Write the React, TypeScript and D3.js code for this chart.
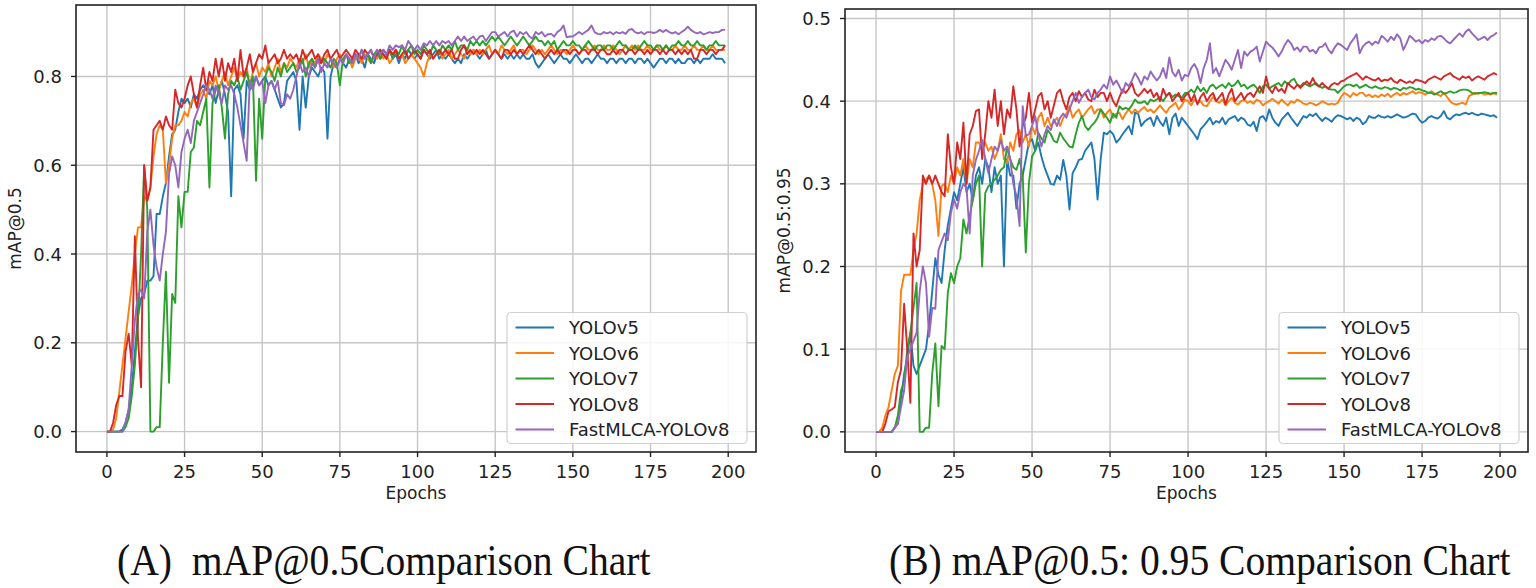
import React from 'react';
import * as d3 from 'd3';

// ---------- categories / labels ----------
const epochs: number[] = d3.range(200);
const seriesNames = ['YOLOv5', 'YOLOv6', 'YOLOv7', 'YOLOv8', 'FastMLCA-YOLOv8'];
const seriesColors = ['#1f77b4', '#ff7f0e', '#2ca02c', '#d62728', '#9467bd'];
const xTicks = [0, 25, 50, 75, 100, 125, 150, 175, 200];
const yTicksA = [0, 0.2, 0.4, 0.6, 0.8];
const yTicksB = [0, 0.1, 0.2, 0.3, 0.4, 0.5];
const captionA = '(A)  mAP@0.5Comparison Chart';
const captionB = '(B) mAP@0.5: 0.95 Comparison Chart';

// ---------- (A) mAP@0.5 ----------
const v5Map50 = [
  0,0,0,0,0,0.005,0.02,0.05,0.1,0.18,
  0.26,0.3,0.31,0.34,0.34,0.35,0.49,0.49,0.53,0.56,
  0.62,0.67,0.68,0.72,0.75,0.74,0.75,0.73,0.76,0.75,
  0.77,0.78,0.77,0.76,0.78,0.74,0.77,0.79,0.76,0.72,
  0.53,0.77,0.78,0.76,0.66,0.79,0.77,0.78,0.8,0.78,
  0.79,0.8,0.78,0.79,0.77,0.75,0.73,0.74,0.79,0.8,
  0.81,0.79,0.68,0.8,0.73,0.8,0.82,0.81,0.8,0.82,
  0.81,0.66,0.8,0.83,0.82,0.84,0.83,0.82,0.84,0.83,
  0.85,0.83,0.84,0.82,0.85,0.84,0.83,0.85,0.84,0.85,
  0.84,0.86,0.84,0.85,0.83,0.85,0.84,0.86,0.85,0.84,
  0.85,0.84,0.86,0.85,0.84,0.85,0.86,0.84,0.85,0.84,
  0.85,0.84,0.83,0.84,0.83,0.85,0.84,0.85,0.86,0.85,
  0.84,0.85,0.86,0.84,0.85,0.86,0.85,0.84,0.85,0.84,
  0.85,0.84,0.85,0.84,0.85,0.84,0.84,0.85,0.83,0.82,
  0.83,0.84,0.85,0.84,0.83,0.84,0.85,0.84,0.84,0.83,
  0.84,0.85,0.84,0.83,0.84,0.84,0.83,0.84,0.85,0.84,
  0.84,0.83,0.84,0.84,0.83,0.84,0.84,0.83,0.84,0.84,
  0.83,0.84,0.84,0.83,0.84,0.83,0.82,0.83,0.84,0.84,
  0.83,0.84,0.84,0.83,0.84,0.83,0.83,0.84,0.84,0.83,
  0.84,0.83,0.84,0.84,0.84,0.85,0.84,0.84,0.84,0.83,
];
const v6Map50 = [
  0,0,0.005,0.03,0.09,0.15,0.21,0.27,0.33,0.4,
  0.46,0.46,0.53,0.52,0.55,0.62,0.67,0.69,0.68,0.56,
  0.6,0.66,0.69,0.69,0.7,0.72,0.71,0.74,0.75,0.73,
  0.76,0.77,0.75,0.79,0.78,0.8,0.77,0.79,0.81,0.78,
  0.8,0.82,0.79,0.81,0.8,0.82,0.78,0.81,0.83,0.8,
  0.82,0.81,0.83,0.8,0.82,0.84,0.81,0.83,0.82,0.84,
  0.83,0.82,0.84,0.83,0.85,0.82,0.84,0.83,0.85,0.84,
  0.83,0.85,0.84,0.82,0.84,0.85,0.83,0.85,0.84,0.82,
  0.84,0.85,0.83,0.85,0.84,0.83,0.85,0.84,0.86,0.84,
  0.85,0.83,0.84,0.86,0.84,0.85,0.83,0.84,0.85,0.84,
  0.83,0.82,0.8,0.83,0.85,0.84,0.85,0.86,0.84,0.85,
  0.86,0.84,0.85,0.86,0.85,0.84,0.86,0.85,0.86,0.85,
  0.86,0.85,0.86,0.87,0.85,0.86,0.85,0.87,0.86,0.85,
  0.86,0.87,0.85,0.86,0.86,0.85,0.86,0.87,0.86,0.85,
  0.86,0.85,0.86,0.87,0.86,0.85,0.86,0.86,0.85,0.86,
  0.87,0.86,0.85,0.86,0.87,0.86,0.86,0.87,0.86,0.86,
  0.87,0.86,0.86,0.87,0.86,0.85,0.86,0.87,0.86,0.87,
  0.86,0.87,0.86,0.86,0.87,0.86,0.86,0.87,0.86,0.86,
  0.87,0.86,0.86,0.87,0.86,0.86,0.87,0.86,0.86,0.87,
  0.86,0.86,0.87,0.86,0.86,0.87,0.86,0.86,0.86,0.86,
];
const v7Map50 = [
  0,0,0,0,0,0,0.01,0.03,0.08,0.15,
  0.25,0.4,0.6,0.5,0,0,0.01,0.01,0.2,0.36,
  0.11,0.31,0.29,0.53,0.46,0.54,0.54,0.63,0.64,0.7,
  0.69,0.72,0.75,0.55,0.74,0.77,0.78,0.73,0.66,0.76,
  0.79,0.78,0.8,0.77,0.79,0.81,0.78,0.8,0.565,0.75,
  0.66,0.8,0.82,0.81,0.79,0.82,0.8,0.83,0.81,0.82,
  0.83,0.81,0.82,0.84,0.8,0.83,0.84,0.82,0.84,0.83,
  0.84,0.83,0.82,0.84,0.83,0.78,0.84,0.85,0.83,0.84,
  0.85,0.84,0.86,0.84,0.85,0.83,0.85,0.86,0.84,0.86,
  0.85,0.86,0.84,0.86,0.85,0.87,0.85,0.86,0.87,0.85,
  0.86,0.85,0.87,0.86,0.85,0.87,0.86,0.85,0.87,0.86,
  0.87,0.86,0.88,0.86,0.87,0.87,0.86,0.88,0.87,0.88,
  0.87,0.88,0.87,0.88,0.89,0.88,0.89,0.88,0.87,0.88,
  0.89,0.88,0.87,0.88,0.89,0.88,0.87,0.88,0.89,0.88,
  0.88,0.87,0.88,0.87,0.88,0.86,0.87,0.88,0.87,0.87,
  0.88,0.87,0.87,0.86,0.87,0.88,0.87,0.86,0.87,0.87,
  0.86,0.87,0.87,0.86,0.87,0.88,0.87,0.87,0.86,0.86,
  0.87,0.86,0.87,0.88,0.87,0.87,0.86,0.87,0.87,0.86,
  0.87,0.86,0.87,0.87,0.88,0.87,0.87,0.88,0.87,0.87,
  0.88,0.87,0.87,0.86,0.87,0.87,0.88,0.87,0.87,0.87,
];
const v8Map50 = [
  0,0,0.02,0.06,0.08,0.08,0.18,0.22,0.15,0.44,
  0.21,0.1,0.6,0.52,0.55,0.68,0.69,0.7,0.68,0.71,
  0.69,0.68,0.77,0.74,0.73,0.75,0.78,0.8,0.76,0.73,
  0.78,0.82,0.77,0.81,0.79,0.84,0.8,0.84,0.79,0.83,
  0.81,0.84,0.79,0.86,0.8,0.82,0.85,0.81,0.83,0.85,
  0.84,0.87,0.83,0.84,0.85,0.83,0.84,0.86,0.84,0.85,
  0.84,0.85,0.83,0.86,0.84,0.85,0.86,0.84,0.85,0.83,
  0.85,0.86,0.84,0.85,0.86,0.84,0.85,0.86,0.85,0.84,
  0.86,0.85,0.84,0.86,0.85,0.86,0.84,0.85,0.86,0.85,
  0.84,0.86,0.85,0.86,0.84,0.85,0.86,0.84,0.85,0.86,
  0.85,0.84,0.86,0.85,0.86,0.84,0.85,0.86,0.85,0.86,
  0.85,0.86,0.84,0.84,0.86,0.87,0.85,0.86,0.85,0.86,
  0.85,0.86,0.85,0.84,0.85,0.86,0.85,0.84,0.86,0.86,
  0.85,0.86,0.85,0.86,0.85,0.86,0.87,0.86,0.85,0.86,
  0.85,0.84,0.85,0.86,0.85,0.86,0.85,0.86,0.86,0.85,
  0.86,0.86,0.85,0.86,0.86,0.85,0.86,0.86,0.85,0.86,
  0.86,0.85,0.85,0.86,0.85,0.86,0.86,0.85,0.86,0.86,
  0.85,0.86,0.86,0.85,0.86,0.85,0.86,0.86,0.85,0.86,
  0.85,0.86,0.86,0.85,0.86,0.85,0.86,0.85,0.86,0.84,
  0.84,0.86,0.86,0.85,0.86,0.86,0.85,0.86,0.86,0.87,
];
const fastMap50 = [
  0,0,0,0,0,0,0.02,0.05,0.15,0.25,
  0.31,0.32,0.3,0.45,0.5,0.42,0.37,0.34,0.4,0.45,
  0.58,0.62,0.6,0.55,0.63,0.66,0.68,0.65,0.7,0.72,
  0.74,0.76,0.78,0.77,0.75,0.78,0.76,0.74,0.78,0.77,
  0.78,0.76,0.73,0.69,0.65,0.61,0.79,0.77,0.8,0.78,
  0.79,0.74,0.78,0.79,0.77,0.79,0.74,0.735,0.76,0.75,
  0.77,0.8,0.83,0.81,0.82,0.8,0.83,0.82,0.84,0.81,
  0.83,0.82,0.84,0.83,0.82,0.84,0.83,0.85,0.84,0.83,
  0.85,0.84,0.86,0.84,0.85,0.86,0.84,0.86,0.85,0.86,
  0.85,0.87,0.86,0.87,0.866,0.87,0.86,0.88,0.87,0.86,
  0.87,0.86,0.875,0.87,0.88,0.87,0.88,0.87,0.88,0.875,
  0.88,0.87,0.88,0.89,0.88,0.89,0.88,0.885,0.89,0.88,
  0.89,0.892,0.88,0.89,0.9,0.9,0.89,0.895,0.9,0.89,
  0.9,0.903,0.89,0.9,0.895,0.9,0.89,0.885,0.9,0.895,
  0.9,0.89,0.895,0.896,0.89,0.9,0.905,0.915,0.888,0.89,
  0.89,0.895,0.9,0.895,0.9,0.905,0.915,0.9,0.896,0.895,
  0.9,0.897,0.9,0.895,0.9,0.897,0.9,0.896,0.905,0.907,
  0.9,0.897,0.9,0.895,0.9,0.9,0.898,0.9,0.905,0.9,
  0.905,0.9,0.897,0.9,0.895,0.9,0.905,0.912,0.905,0.9,
  0.897,0.9,0.895,0.897,0.9,0.898,0.9,0.9,0.905,0.905,
];

// ---------- (B) mAP@0.5:0.95 ----------
const v5Map5095 = [
  0,0,0,0,0,0,0.005,0.01,0.04,0.07,
  0.09,0.12,0.08,0.07,0.08,0.09,0.1,0.13,0.17,0.21,
  0.19,0.18,0.22,0.25,0.27,0.29,0.28,0.3,0.32,0.29,
  0.3,0.28,0.31,0.32,0.3,0.33,0.32,0.29,0.32,0.3,
  0.31,0.2,0.33,0.31,0.31,0.27,0.3,0.31,0.33,0.35,
  0.354,0.34,0.35,0.333,0.32,0.31,0.3,0.299,0.31,0.305,
  0.329,0.31,0.269,0.313,0.32,0.329,0.33,0.34,0.345,0.35,
  0.33,0.281,0.33,0.362,0.36,0.364,0.36,0.35,0.354,0.36,
  0.365,0.37,0.36,0.386,0.385,0.37,0.375,0.378,0.38,0.37,
  0.382,0.375,0.37,0.38,0.36,0.38,0.385,0.37,0.38,0.375,
  0.37,0.365,0.36,0.354,0.366,0.37,0.375,0.38,0.372,0.376,
  0.374,0.38,0.372,0.378,0.38,0.382,0.376,0.38,0.378,0.372,
  0.37,0.375,0.364,0.38,0.382,0.376,0.39,0.38,0.374,0.37,
  0.378,0.382,0.386,0.38,0.375,0.37,0.376,0.382,0.38,0.384,
  0.382,0.385,0.38,0.376,0.38,0.378,0.375,0.38,0.383,0.382,
  0.38,0.378,0.38,0.376,0.38,0.378,0.372,0.375,0.382,0.38,
  0.38,0.383,0.381,0.38,0.382,0.38,0.382,0.384,0.382,0.38,
  0.381,0.383,0.385,0.384,0.378,0.374,0.376,0.38,0.382,0.38,
  0.379,0.382,0.388,0.38,0.378,0.382,0.384,0.383,0.385,0.386,
  0.384,0.386,0.384,0.383,0.385,0.384,0.383,0.382,0.383,0.38,
];
const v6Map5095 = [
  0,0,0.005,0.02,0.03,0.05,0.07,0.08,0.17,0.19,
  0.19,0.19,0.22,0.24,0.28,0.3,0.305,0.31,0.3,0.28,
  0.237,0.297,0.3,0.29,0.31,0.3,0.32,0.31,0.33,0.3,
  0.33,0.32,0.35,0.35,0.34,0.35,0.34,0.345,0.33,0.34,
  0.36,0.33,0.325,0.35,0.34,0.36,0.365,0.35,0.36,0.345,
  0.37,0.36,0.38,0.386,0.37,0.38,0.37,0.375,0.38,0.37,
  0.38,0.385,0.394,0.38,0.386,0.39,0.38,0.385,0.39,0.394,
  0.385,0.39,0.39,0.38,0.386,0.39,0.38,0.385,0.386,0.378,
  0.385,0.39,0.385,0.39,0.386,0.39,0.393,0.388,0.39,0.386,
  0.39,0.395,0.39,0.386,0.392,0.395,0.398,0.39,0.395,0.402,
  0.4,0.395,0.402,0.398,0.4,0.395,0.394,0.4,0.405,0.4,
  0.398,0.402,0.395,0.4,0.404,0.398,0.396,0.4,0.402,0.398,
  0.4,0.397,0.402,0.4,0.395,0.398,0.4,0.403,0.4,0.397,
  0.402,0.398,0.395,0.4,0.398,0.402,0.4,0.397,0.396,0.398,
  0.397,0.395,0.397,0.4,0.398,0.396,0.397,0.396,0.398,0.405,
  0.41,0.408,0.405,0.41,0.407,0.41,0.41,0.406,0.408,0.405,
  0.407,0.405,0.408,0.406,0.409,0.405,0.408,0.41,0.407,0.41,
  0.408,0.41,0.412,0.409,0.411,0.41,0.408,0.41,0.412,0.409,
  0.408,0.406,0.41,0.405,0.4,0.397,0.396,0.397,0.398,0.396,
  0.406,0.408,0.41,0.409,0.41,0.408,0.409,0.408,0.41,0.408,
];
const v7Map5095 = [
  0,0,0,0,0,0,0.005,0.02,0.05,0.06,
  0.1,0.12,0.15,0.18,0,0,0.005,0.005,0.07,0.107,
  0.031,0.104,0.1,0.168,0.192,0.18,0.2,0.21,0.257,0.24,
  0.261,0.28,0.3,0.31,0.2,0.289,0.297,0.3,0.305,0.31,
  0.317,0.32,0.345,0.33,0.32,0.317,0.33,0.31,0.217,0.301,
  0.333,0.34,0.362,0.355,0.35,0.365,0.36,0.352,0.35,0.362,
  0.355,0.35,0.345,0.344,0.36,0.374,0.382,0.37,0.365,0.37,
  0.374,0.38,0.39,0.385,0.38,0.374,0.385,0.38,0.394,0.39,
  0.392,0.39,0.395,0.402,0.398,0.398,0.4,0.396,0.402,0.4,
  0.402,0.405,0.4,0.406,0.41,0.405,0.408,0.406,0.404,0.41,
  0.41,0.414,0.41,0.418,0.412,0.416,0.41,0.418,0.42,0.415,
  0.418,0.42,0.416,0.422,0.418,0.42,0.425,0.418,0.42,0.415,
  0.418,0.42,0.416,0.41,0.418,0.42,0.415,0.418,0.42,0.422,
  0.418,0.424,0.42,0.425,0.427,0.42,0.418,0.422,0.42,0.418,
  0.42,0.422,0.418,0.416,0.418,0.415,0.414,0.414,0.41,0.414,
  0.418,0.42,0.42,0.418,0.42,0.416,0.418,0.42,0.417,0.416,
  0.418,0.416,0.415,0.417,0.416,0.414,0.416,0.415,0.413,0.416,
  0.415,0.417,0.416,0.414,0.415,0.413,0.412,0.41,0.41,0.408,
  0.41,0.412,0.409,0.41,0.412,0.41,0.411,0.413,0.414,0.414,
  0.413,0.41,0.409,0.41,0.41,0.411,0.41,0.409,0.41,0.41,
];
const v8Map5095 = [
  0,0,0,0.01,0.025,0.027,0.03,0.06,0.075,0.155,
  0.1,0.035,0.24,0.2,0.22,0.31,0.3,0.31,0.3,0.31,
  0.3,0.29,0.285,0.36,0.32,0.3,0.35,0.33,0.374,0.3,
  0.36,0.37,0.388,0.39,0.33,0.36,0.4,0.38,0.414,0.37,
  0.4,0.36,0.39,0.38,0.418,0.39,0.345,0.37,0.38,0.41,
  0.374,0.39,0.406,0.41,0.39,0.4,0.38,0.395,0.41,0.414,
  0.4,0.39,0.405,0.41,0.4,0.412,0.405,0.41,0.402,0.4,
  0.414,0.405,0.41,0.41,0.4,0.41,0.4,0.394,0.405,0.414,
  0.41,0.415,0.422,0.41,0.406,0.41,0.415,0.41,0.414,0.405,
  0.41,0.4,0.415,0.406,0.41,0.4,0.405,0.41,0.4,0.406,
  0.41,0.4,0.408,0.396,0.405,0.41,0.4,0.406,0.41,0.4,
  0.405,0.41,0.396,0.408,0.415,0.4,0.405,0.41,0.402,0.408,
  0.41,0.405,0.412,0.418,0.41,0.43,0.415,0.41,0.418,0.412,
  0.415,0.41,0.422,0.418,0.415,0.42,0.416,0.42,0.424,0.42,
  0.428,0.42,0.418,0.422,0.418,0.415,0.42,0.422,0.42,0.424,
  0.425,0.428,0.43,0.432,0.434,0.43,0.426,0.43,0.428,0.426,
  0.425,0.428,0.424,0.426,0.425,0.428,0.424,0.422,0.426,0.424,
  0.422,0.424,0.422,0.426,0.425,0.424,0.422,0.426,0.428,0.43,
  0.428,0.426,0.43,0.432,0.434,0.43,0.428,0.426,0.43,0.428,
  0.43,0.425,0.428,0.43,0.428,0.426,0.43,0.432,0.434,0.432,
];
const fastMap5095 = [
  0,0,0,0,0,0,0.005,0.01,0.03,0.05,
  0.09,0.1,0.11,0.12,0.17,0.2,0.18,0.115,0.15,0.149,
  0.22,0.23,0.24,0.232,0.265,0.281,0.27,0.29,0.3,0.295,
  0.24,0.31,0.329,0.34,0.353,0.33,0.313,0.33,0.345,0.34,
  0.353,0.34,0.345,0.33,0.3,0.285,0.249,0.394,0.358,0.36,
  0.37,0.382,0.36,0.345,0.36,0.37,0.365,0.378,0.37,0.38,
  0.385,0.38,0.39,0.4,0.41,0.398,0.405,0.41,0.414,0.405,
  0.402,0.41,0.414,0.42,0.415,0.43,0.42,0.425,0.418,0.41,
  0.422,0.418,0.425,0.434,0.428,0.42,0.43,0.426,0.436,0.43,
  0.425,0.43,0.44,0.428,0.453,0.435,0.43,0.438,0.425,0.432,
  0.43,0.44,0.445,0.438,0.422,0.44,0.45,0.47,0.434,0.44,
  0.43,0.44,0.45,0.445,0.438,0.45,0.462,0.44,0.46,0.455,
  0.46,0.462,0.466,0.448,0.46,0.472,0.468,0.465,0.46,0.454,
  0.46,0.468,0.474,0.47,0.462,0.465,0.46,0.466,0.466,0.46,
  0.462,0.458,0.465,0.466,0.47,0.462,0.458,0.465,0.47,0.468,
  0.465,0.462,0.47,0.475,0.481,0.458,0.466,0.47,0.472,0.468,
  0.472,0.47,0.479,0.476,0.472,0.478,0.474,0.481,0.476,0.462,
  0.47,0.479,0.476,0.472,0.474,0.47,0.474,0.472,0.476,0.474,
  0.478,0.479,0.476,0.472,0.47,0.474,0.478,0.482,0.478,0.484,
  0.487,0.482,0.478,0.474,0.476,0.478,0.474,0.478,0.48,0.483,
];

const seriesA = [v5Map50, v6Map50, v7Map50, v8Map50, fastMap50];
const seriesB = [v5Map5095, v6Map5095, v7Map5095, v8Map5095, fastMap5095];

const SANS = '"DejaVu Sans", Verdana, sans-serif';
const SERIF = '"Liberation Serif", "Times New Roman", serif';

type PanelProps = {
  box: { x0: number; x1: number; y0: number; y1: number };
  yDomain: [number, number];
  yTicks: number[];
  yFormat: (v: number) => string;
  series: number[][];
  ylabel: string;
  ylabelX: number;
};

function Panel({ box, yDomain, yTicks, yFormat, series, ylabel, ylabelX }: PanelProps) {
  const x = d3.scaleLinear().domain([-9.95, 208.95]).range([box.x0, box.x1]);
  const y = d3.scaleLinear().domain(yDomain).range([box.y1, box.y0]);
  const line = d3
    .line<number>()
    .x((_, i) => x(epochs[i]))
    .y((d) => y(d));
  const clipId = `clip-${box.x0}`;
  const legendW = 240;
  const legendH = 131;
  const lx = box.x1 - 9 - legendW;
  const ly = box.y1 - 8.5 - legendH;
  return (
    <g>
      <defs>
        <clipPath id={clipId}>
          <rect x={box.x0} y={box.y0} width={box.x1 - box.x0} height={box.y1 - box.y0} />
        </clipPath>
      </defs>
      {/* grid */}
      <g stroke="#c6c6c6" strokeWidth={1.4}>
        {xTicks.map((t) => (
          <line key={'gx' + t} x1={x(t)} x2={x(t)} y1={box.y0} y2={box.y1} />
        ))}
        {yTicks.map((t) => (
          <line key={'gy' + t} x1={box.x0} x2={box.x1} y1={y(t)} y2={y(t)} />
        ))}
      </g>
      {/* series */}
      <g clipPath={`url(#${clipId})`} fill="none" strokeWidth={1.9} strokeLinejoin="round">
        {series.map((s, i) => (
          <path key={seriesNames[i]} d={line(s) || ''} stroke={seriesColors[i]} />
        ))}
      </g>
      {/* spines */}
      <rect
        x={box.x0}
        y={box.y0}
        width={box.x1 - box.x0}
        height={box.y1 - box.y0}
        fill="none"
        stroke="#222"
        strokeWidth={1.6}
      />
      {/* ticks and axis labels */}
      <g fontFamily={SANS} fontSize={18} fill="#222">
        {xTicks.map((t) => (
          <g key={'xt' + t}>
            <line x1={x(t)} x2={x(t)} y1={box.y1} y2={box.y1 + 5} stroke="#222" strokeWidth={1.4} />
            <text x={x(t)} y={box.y1 + 26} textAnchor="middle">
              {t}
            </text>
          </g>
        ))}
        {yTicks.map((t) => (
          <g key={'yt' + t}>
            <line x1={box.x0 - 5} x2={box.x0} y1={y(t)} y2={y(t)} stroke="#222" strokeWidth={1.4} />
            <text x={box.x0 - 14} y={y(t)} textAnchor="end" dominantBaseline="central">
              {yFormat(t)}
            </text>
          </g>
        ))}
        <text x={(box.x0 + box.x1) / 2} y={499} textAnchor="middle" fontSize={17}>
          Epochs
        </text>
        <text
          transform={`translate(${ylabelX},${(box.y0 + box.y1) / 2}) rotate(-90)`}
          textAnchor="middle"
          fontSize={17}
        >
          {ylabel}
        </text>
      </g>
      {/* legend */}
      <g fontFamily={SANS} fontSize={18}>
        <rect
          x={lx}
          y={ly}
          width={legendW}
          height={legendH}
          rx={4}
          fill="#ffffff"
          fillOpacity={0.85}
          stroke="#d0d0d0"
          strokeWidth={1.2}
        />
        {seriesNames.map((n, i) => {
          const ry = ly + 15 + i * 25.5;
          return (
            <g key={'lg' + n}>
              <line x1={lx + 8.5} x2={lx + 47} y1={ry} y2={ry} stroke={seriesColors[i]} strokeWidth={2} />
              <text x={lx + 62} y={ry} dominantBaseline="central" fill="#222">
                {n}
              </text>
            </g>
          );
        })}
      </g>
    </g>
  );
}

export default function App() {
  const fmt1 = d3.format('.1f');
  return (
    <svg
      width={1536}
      height={588}
      viewBox="0 0 1536 588"
      style={{ position: 'absolute', left: 0, top: 0, background: '#fff' }}
    >
      <rect x={0} y={0} width={1536} height={588} fill="#fff" />
      <Panel
        box={{ x0: 76, x1: 756, y0: 5, y1: 452 }}
        yDomain={[-0.046, 0.961]}
        yTicks={yTicksA}
        yFormat={fmt1}
        series={seriesA}
        ylabel="mAP@0.5"
        ylabelX={21}
      />
      <Panel
        box={{ x0: 845, x1: 1528, y0: 9, y1: 452 }}
        yDomain={[-0.0244, 0.5115]}
        yTicks={yTicksB}
        yFormat={fmt1}
        series={seriesB}
        ylabel="mAP@0.5:0.95"
        ylabelX={790}
      />
      <text
        transform="translate(117,575) scale(0.9,1)"
        x={0}
        y={0}
        fontFamily={SERIF}
        fontSize={44}
        style={{ whiteSpace: 'pre' }}
        fill="#111"
      >
        {captionA}
      </text>
      <text
        transform="translate(889,575) scale(0.9,1)"
        x={0}
        y={0}
        fontFamily={SERIF}
        fontSize={44}
        style={{ whiteSpace: 'pre' }}
        fill="#111"
      >
        {captionB}
      </text>
    </svg>
  );
}
